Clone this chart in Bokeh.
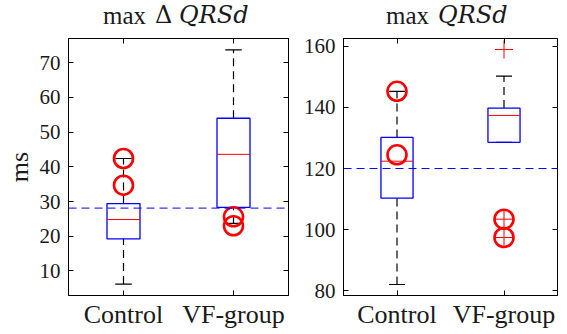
from bokeh.plotting import figure
from bokeh.layouts import row, column
from bokeh.models import (ColumnDataSource, FactorRange, Range1d, Span, Div,
                          SingleIntervalTicker, LinearAxis, CategoricalAxis,
                          CustomJSTickFormatter)
from bokeh.transform import dodge
from bokeh.embed import file_html
from bokeh.resources import INLINE

# ---------------- data ----------------
categories = ["Control", "VF-group"]

dqrsd_title = ("max", "\u0394", "QRSd")
dqrsd_ylabel = "ms"
dqrsd_q1 = [19.2, 28.3]
dqrsd_median = [24.8, 43.6]
dqrsd_q3 = [29.4, 54.0]
dqrsd_whisker_lo = [6.2, 23.7]
dqrsd_whisker_hi = [42.4, 73.7]
dqrsd_marked_group = ["Control", "Control", "VF-group", "VF-group"]
dqrsd_marked = [42.4, 34.7, 25.6, 23.0]
dqrsd_outlier_group = []
dqrsd_outliers = []
dqrsd_threshold = 28.1

qrsd_title = ("max", "", "QRSd")
qrsd_q1 = [110.3, 128.6]
qrsd_median = [122.4, 137.4]
qrsd_q3 = [130.2, 139.8]
qrsd_whisker_lo = [82.0, 128.6]
qrsd_whisker_hi = [145.3, 150.3]
qrsd_marked_group = ["Control", "Control", "VF-group", "VF-group"]
qrsd_marked = [145.3, 124.5, 103.4, 97.4]
qrsd_outlier_group = ["VF-group", "VF-group", "VF-group"]
qrsd_outliers = [159.0, 103.4, 97.4]
qrsd_threshold = 120.0

SERIF = "Liberation Serif"
TXT = "#1a1a1a"
TITLE_H = 34
FIG_H = 334 - TITLE_H


def style_axis(ax, labels=True, size="21px"):
    ax.axis_line_color = "black"
    ax.axis_line_width = 1
    ax.major_tick_line_color = "black"
    ax.major_tick_in = 5
    ax.major_tick_out = 0
    ax.minor_tick_line_color = None
    ax.major_label_text_font = SERIF
    ax.major_label_text_color = TXT
    ax.major_label_text_font_size = size
    ax.major_label_standoff = 4 if labels else 0
    if not labels:
        ax.formatter = CustomJSTickFormatter(code="return ''")


def make_panel(width, yr, interval, q1, med, q3, lo, hi, mk_g, mk_v, out_g, out_v,
               thr, bl, br, ylabel=None):
    p = figure(width=width, height=FIG_H, x_range=FactorRange(*categories),
               y_range=Range1d(*yr), output_backend="svg", toolbar_location=None,
               min_border_left=bl, min_border_right=br, min_border_top=4,
               min_border_bottom=39)
    p.grid.visible = False
    p.outline_line_color = "black"
    p.outline_line_width = 1
    p.background_fill_color = "white"
    p.border_fill_color = "white"

    style_axis(p.xaxis[0], True, "26px")
    style_axis(p.yaxis[0], True, "21px")
    p.yaxis[0].ticker = SingleIntervalTicker(interval=interval)
    if ylabel:
        p.yaxis[0].axis_label = ylabel
        p.yaxis[0].axis_label_text_font = SERIF
        p.yaxis[0].axis_label_text_font_style = "normal"
        p.yaxis[0].axis_label_text_font_size = "26px"
        p.yaxis[0].axis_label_text_color = TXT
        p.yaxis[0].axis_label_standoff = 3

    ra = LinearAxis(ticker=SingleIntervalTicker(interval=interval))
    style_axis(ra, False, "1px")
    p.add_layout(ra, "right")
    ta = CategoricalAxis()
    style_axis(ta, False, "1px")
    p.add_layout(ta, "above")

    src = ColumnDataSource(dict(cat=categories, q1=q1, med=med, q3=q3, lo=lo, hi=hi))
    # whiskers
    p.segment(x0="cat", x1="cat", y0="q3", y1="hi", source=src,
              line_color="black", line_width=1.2, line_dash="8 5")
    p.segment(x0="cat", x1="cat", y0="lo", y1="q1", source=src,
              line_color="black", line_width=1.2, line_dash="8 5")
    # caps
    for col in ("hi", "lo"):
        p.segment(x0=dodge("cat", -0.075, range=p.x_range),
                  x1=dodge("cat", 0.075, range=p.x_range),
                  y0=col, y1=col, source=src, line_color="black", line_width=1.2)
    # boxes
    p.vbar(x="cat", top="q3", bottom="q1", width=0.3, source=src,
           fill_color=None, line_color="blue", line_width=1.3)
    # medians
    p.segment(x0=dodge("cat", -0.15, range=p.x_range),
              x1=dodge("cat", 0.15, range=p.x_range),
              y0="med", y1="med", source=src, line_color="red", line_width=1)
    # outliers
    if out_v:
        p.scatter(x=out_g, y=out_v, marker="cross", size=18,
                  line_color="red", line_width=1)
    # marked subjects
    p.scatter(x=mk_g, y=mk_v, marker="circle", size=19, fill_color=None,
              line_color="red", line_width=2.6)
    # threshold
    p.add_layout(Span(location=thr, dimension="width", line_color="blue",
                      line_width=1, line_dash="8 5"))
    return p


def title_div(width, parts, x_max, x_delta, x_sym):
    word, delta, sym = parts
    span = ("position:absolute;top:2.5px;white-space:nowrap;line-height:25px;"
            "color:%s;" % TXT)
    html = '<div style="position:relative;width:%dpx;height:%dpx;">' % (width, TITLE_H)
    html += ('<span style="%sleft:%dpx;font-size:25px;font-family:\'%s\';">%s</span>'
             % (span, x_max, SERIF, word))
    if delta:
        html += ('<span style="%sleft:%dpx;font-size:24px;'
                 'font-family:\'DejaVu Serif\';">%s</span>' % (span, x_delta, delta))
    html += ('<span style="%sleft:%dpx;font-size:24px;font-family:\'DejaVu Serif\';'
             'font-style:italic;">%s</span>' % (span, x_sym, sym))
    html += '</div>'
    return Div(text=html, width=width, height=TITLE_H, margin=0)


p1 = make_panel(300, (2.9, 77.0), 10, dqrsd_q1, dqrsd_median, dqrsd_q3,
                dqrsd_whisker_lo, dqrsd_whisker_hi, dqrsd_marked_group, dqrsd_marked,
                dqrsd_outlier_group, dqrsd_outliers, dqrsd_threshold, 68, 12, dqrsd_ylabel)
p2 = make_panel(267, (78.4, 162.6), 20, qrsd_q1, qrsd_median, qrsd_q3,
                qrsd_whisker_lo, qrsd_whisker_hi, qrsd_marked_group, qrsd_marked,
                qrsd_outlier_group, qrsd_outliers, qrsd_threshold, 41, 10)

t1 = title_div(300, dqrsd_title, 103, 155, 179)
t2 = title_div(267, qrsd_title, 86, 0, 138)

layout = row(column(t1, p1, spacing=0), column(t2, p2, spacing=0), spacing=0)
open("out.html", "w").write(file_html(layout, INLINE))
